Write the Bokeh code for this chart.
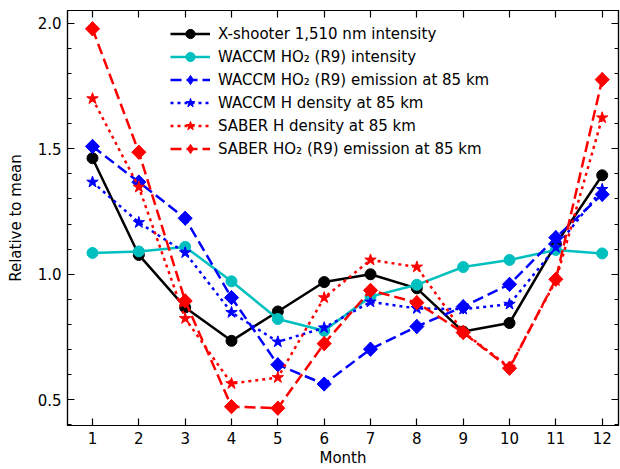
import math
from bokeh.plotting import figure
from bokeh.models import LinearAxis, FixedTicker, PrintfTickFormatter, Range1d, Legend
from bokeh.embed import file_html
from bokeh.resources import INLINE

months = [1, 2, 3, 4, 5, 6, 7, 8, 9, 10, 11, 12]
xshooter = [1.462, 1.077, 0.868, 0.735, 0.852, 0.969, 1.000, 0.944, 0.772, 0.806, 1.120, 1.394]
waccm_ho2_int = [1.085, 1.091, 1.109, 0.972, 0.822, 0.775, 0.911, 0.958, 1.029, 1.057, 1.097, 1.083]
waccm_ho2_em = [1.509, 1.367, 1.223, 0.907, 0.640, 0.563, 0.702, 0.792, 0.871, 0.960, 1.146, 1.318]
waccm_h = [1.367, 1.206, 1.086, 0.848, 0.731, 0.787, 0.890, 0.864, 0.861, 0.881, 1.107, 1.338]
saber_h = [1.699, 1.347, 0.824, 0.565, 0.589, 0.907, 1.057, 1.029, 0.770, 0.630, 0.975, 1.623]
saber_ho2_em = [1.977, 1.486, 0.894, 0.473, 0.467, 0.724, 0.936, 0.887, 0.768, 0.626, 0.980, 1.775]

y_major = [0.5, 1.0, 1.5, 2.0]
y_minor = [0.4, 0.6, 0.7, 0.8, 0.9, 1.1, 1.2, 1.3, 1.4, 1.6, 1.7, 1.8, 1.9, 2.0]

FONT = "DejaVu Sans"

p = figure(width=620, height=469, output_backend="svg", toolbar_location=None,
           x_range=Range1d(0.4605, 12.352), y_range=Range1d(0.398, 2.05),
           min_border_left=67, min_border_top=10, min_border_right=2, min_border_bottom=42)
p.xgrid.visible = False
p.ygrid.visible = False
p.outline_line_color = "black"
p.outline_line_width = 1.2
p.background_fill_color = "white"
p.border_fill_color = "white"

def style_axis(ax, labels=True):
    ax.axis_line_color = "black"
    ax.axis_line_width = 1.2
    ax.major_tick_in = 7
    ax.major_tick_out = 0
    ax.minor_tick_in = 4
    ax.minor_tick_out = 0
    ax.major_tick_line_color = "black"
    ax.major_tick_line_width = 1.2
    ax.minor_tick_line_width = 1
    ax.major_label_text_font = FONT
    ax.major_label_text_font_size = "15px" if labels else "0px"
    ax.major_label_text_color = "black"
    ax.axis_label_text_font = FONT
    ax.axis_label_text_font_size = "15px"
    ax.axis_label_text_font_style = "normal"
    ax.axis_label_text_color = "black"

xt = FixedTicker(ticks=months)
yt = FixedTicker(ticks=y_major, minor_ticks=y_minor)

xa = p.xaxis[0]
xa.ticker = xt
xa.axis_label = "Month"
xa.minor_tick_line_color = None
style_axis(xa)
xa.major_label_standoff = 6
xa.axis_label_standoff = 2

ya = p.yaxis[0]
ya.ticker = yt
ya.formatter = PrintfTickFormatter(format="%.1f")
ya.axis_label = "Relative to mean"
style_axis(ya)
ya.major_label_standoff = 6
ya.axis_label_standoff = 10

top = LinearAxis(ticker=FixedTicker(ticks=months))
style_axis(top, labels=False)
top.minor_tick_line_color = None
top.major_label_standoff = 0
p.add_layout(top, "above")

right = LinearAxis(ticker=FixedTicker(ticks=y_major, minor_ticks=y_minor))
style_axis(right, labels=False)
right.major_label_standoff = 0
p.add_layout(right, "right")

LW = 2.5
series = [
    ("X-shooter 1,510 nm intensity", xshooter, "black", "solid", "circle", 11),
    ("WACCM HO\u2082 (R9) intensity", waccm_ho2_int, "#00BFBF", "solid", "circle", 11),
    ("WACCM HO\u2082 (R9) emission at 85 km", waccm_ho2_em, "#0000FF", "11 5", "diamond", 10),
    ("WACCM H density at 85 km", waccm_h, "#0000FF", "3 4", "star", 12),
    ("SABER H density at 85 km", saber_h, "#FF0000", "3 4", "star", 12),
    ("SABER HO\u2082 (R9) emission at 85 km", saber_ho2_em, "#FF0000", "11 5", "diamond", 10),
]

items = []
for label, vals, color, dash, marker, size in series:
    r1 = p.line(months, vals, line_color=color, line_width=LW, line_dash=dash)
    if marker == "diamond":
        # narrow diamond fully hidden under the rotated square; used for the legend glyph
        r2 = p.scatter(months, vals, marker="diamond", size=size * 1.4,
                       fill_color=color, line_color=color)
        p.scatter(months, vals, marker="square", angle=math.pi / 4, size=size,
                  fill_color=color, line_color=color)
    else:
        r2 = p.scatter(months, vals, marker=marker, size=size, fill_color=color, line_color=color)
    items.append((label, [r1, r2]))

legend = Legend(items=items, location=(103, 265))
legend.border_line_color = None
legend.background_fill_alpha = 0
legend.label_text_font = FONT
legend.label_text_font_size = "15px"
legend.label_text_color = "black"
legend.glyph_width = 40
legend.glyph_height = 23
legend.label_height = 23
legend.spacing = 0
legend.padding = 0
legend.margin = 0
legend.label_standoff = 8
p.add_layout(legend, "center")

open("out.html", "w").write(file_html(p, INLINE))
